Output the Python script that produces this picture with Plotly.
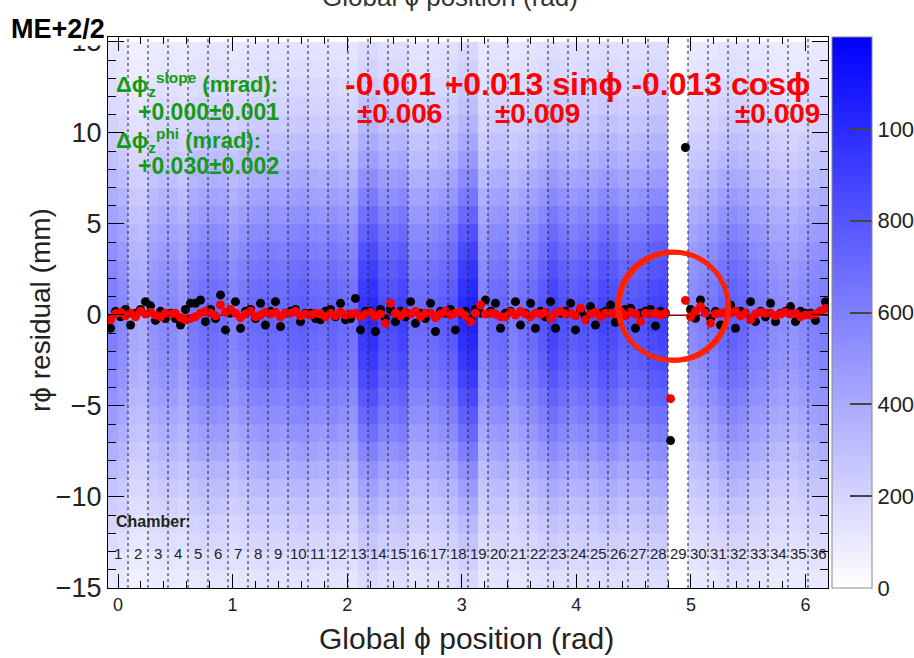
import math
import plotly.graph_objects as go

# ---------------- data ----------------
n_chambers = 36
chamber_ids = list(range(1, n_chambers + 1))
chamber_width_deg = 10.0
point_offsets = [-0.065, -0.022, 0.022, 0.065]  # rad, offsets of points within a chamber

# heat-map column intensities (two columns per chamber, left to right)
column_counts = [
    620, 560, 420, 400, 520, 560, 560, 500, 640, 680,
    700, 680, 600, 650, 700, 720, 720, 700, 740, 760,
    720, 700, 740, 700, 680, 950, 1000, 850, 850, 900,
    700, 700, 720, 760, 800, 1000, 1050, 600, 700, 720,
    620, 680, 720, 800, 900, 820, 780, 820, 800, 880,
    860, 780, 800, 820, 880, 900, 0, 0, 560, 600,
    640, 720, 760, 720, 640, 620, 560, 540, 520, 560,
    600, 620,
]
# relative vertical profile of the residual distribution (1 mm bins, -15 .. 15)
residual_profile = [
    0.18, 0.22, 0.27, 0.32, 0.38, 0.45, 0.52, 0.60, 0.68, 0.75,
    0.82, 0.88, 0.93, 0.97, 1.00, 1.00, 0.96, 0.91, 0.85, 0.78,
    0.70, 0.62, 0.54, 0.46, 0.40, 0.34, 0.29, 0.25, 0.21, 0.18,
]

# black points: 4 per chamber (None = no point)
black_res = [
    [-0.73, 0.20, -0.10, 0.30], [-0.55, 0.10, 0.30, 0.73], [0.50, -0.30, 0.20, -0.20],
    [0.10, -0.20, -0.55, 0.30], [0.64, 0.64, 0.82, -0.37], [0.30, -0.20, 1.10, -0.82],
    [0.10, 0.73, -0.73, 0.20], [0.30, -0.20, 0.64, -0.55], [0.20, 0.73, -0.64, 0.10],
    [0.20, 0.30, -0.37, 0.10], [0.10, -0.20, -0.27, 0.20], [0.30, -0.10, 0.64, -0.27],
    [-0.20, 0.91, -0.82, 0.20], [0.20, -0.91, 0.30, -0.20], [0.30, -0.37, 0.20, -0.10],
    [0.73, -0.46, 0.10, -0.20], [0.64, -0.91, 0.20, 0.10], [0.30, -0.82, 0.10, 0.20],
    [-0.20, 0.30, 0.10, 0.82], [0.20, 0.64, -0.73, 0.10], [0.20, 0.73, -0.55, 0.10],
    [0.64, -0.73, 0.20, -0.10], [0.73, -0.73, 0.10, 0.20], [0.64, -0.82, 0.20, -0.10],
    [0.46, -0.55, 0.10, 0.20], [0.55, -0.40, 0.20, 0.30], [0.37, -0.73, 0.10, 0.20],
    [0.30, -0.60, 0.20, 0.10], [-6.90, None, None, 9.20], [0.30, -0.18, 0.82, 0.20],
    [-0.18, 0.20, -0.55, 0.10], [0.55, -0.73, 0.20, 0.10], [0.73, -0.37, 0.20, -0.10],
    [0.64, -0.37, 0.10, 0.20], [0.46, -0.37, 0.20, 0.10], [0.10, -0.30, 0.20, 0.73],
]
# red points: 4 per chamber
red_res = [
    [-0.27, 0.05, 0.15, -0.05], [0.10, -0.10, 0.20, 0.05], [0.15, 0.00, -0.10, 0.10],
    [0.05, 0.10, -0.15, -0.27], [-0.20, -0.10, 0.10, 0.20], [0.10, -0.05, 0.55, 0.15],
    [0.30, 0.10, -0.15, 0.05], [0.20, -0.10, 0.00, 0.15], [0.05, 0.15, -0.10, 0.10],
    [0.10, 0.20, -0.05, 0.05], [0.00, 0.10, 0.05, -0.10], [0.10, -0.05, 0.15, 0.00],
    [0.05, 0.10, -0.10, 0.05], [0.15, -0.10, 0.05, -0.46], [0.64, 0.10, -0.05, 0.15],
    [0.05, 0.20, -0.10, 0.10], [0.10, -0.15, 0.05, 0.20], [0.00, 0.10, 0.15, -0.05],
    [-0.37, 0.10, 0.55, 0.05], [0.10, 0.05, -0.10, -0.10], [0.15, 0.00, 0.20, 0.05],
    [-0.10, 0.10, 0.05, 0.15], [-0.18, 0.10, 0.20, 0.05], [0.10, -0.05, 0.37, -0.27],
    [0.05, 0.15, -0.10, 0.10], [0.10, 0.05, 0.20, -0.05], [0.15, 0.05, -0.35, 0.10],
    [0.05, 0.10, 0.00, 0.10], [-4.60, None, None, 0.80], [-0.10, 0.20, 0.46, 0.10],
    [-0.45, 0.05, 0.10, 0.15], [0.10, 0.20, -0.05, 0.10], [-0.27, 0.05, 0.15, 0.10],
    [0.10, -0.05, 0.05, 0.15], [0.05, 0.10, -0.10, 0.00], [0.00, 0.05, 0.20, 0.35],
]
# fit: p0 + p1 sin(phi) + p2 cos(phi)
fit_p0, fit_p1, fit_p2 = -0.001, 0.013, -0.013
fit_text = "-0.001 +0.013 sin\u03d5 -0.013 cos\u03d5"
fit_err_text = ["\u00b10.006", "\u00b10.009", "\u00b10.009"]
dphi_slope_text = "+0.000\u00b10.001"
dphi_phi_text = "+0.030\u00b10.002"
station_label = "ME+2/2"

# ---------------- derived ----------------
cw = math.radians(chamber_width_deg)
x_lo = -cw / 2
x_hi = 2 * math.pi - cw / 2
centers = [(c - 1) * cw for c in chamber_ids]

n_cols = len(column_counts)
col_w = (x_hi - x_lo) / n_cols
hx = [x_lo + (j + 0.5) * col_w for j in range(n_cols)]
hy = [-15 + i + 0.5 for i in range(len(residual_profile))]
hz = [[a * p for a in column_counts] for p in residual_profile]


def flat(vals):
    xs, ys = [], []
    for c, row in zip(centers, vals):
        for o, v in zip(point_offsets, row):
            if v is not None:
                xs.append(c + o)
                ys.append(v)
    return xs, ys


bx, by = flat(black_res)
rx, ry = flat(red_res)
fx = [x_lo + k * (x_hi - x_lo) / 200 for k in range(201)]
fy = [fit_p0 + fit_p1 * math.sin(v) + fit_p2 * math.cos(v) for v in fx]

# ---------------- figure ----------------
W, H = 914, 658
L, R, T, B = 108, 828, 37, 588


def px(x):
    return (x - L) / (R - L)


def py(y):
    return (B - y) / (B - T)


FONT = "Liberation Sans, Arial, Helvetica, sans-serif"

fig = go.Figure()
fig.add_trace(go.Heatmap(
    x=hx, y=hy, z=hz, zmin=0, zmax=1200, zsmooth=False,
    colorscale=[[0, "rgb(255,255,255)"], [1, "rgb(0,0,255)"]],
    colorbar=dict(
        x=px(832), xanchor="left", y=0.5, yanchor="middle", len=1, lenmode="fraction",
        thickness=40, thicknessmode="pixels", xpad=0, ypad=0,
        outlinewidth=1, outlinecolor="#888",
        tickvals=[0, 200, 400, 600, 800, 1000], ticks="inside", ticklen=22,
        tickwidth=2, tickcolor="#444",
        tickfont=dict(family=FONT, size=22, color="#222"),
    ),
    hoverinfo="skip",
))
fig.add_trace(go.Scatter(x=fx, y=fy, mode="lines", line=dict(color="#8b0000", width=1.5),
                         hoverinfo="skip"))
fig.add_trace(go.Scatter(x=bx, y=by, mode="markers",
                         marker=dict(color="black", size=9), hoverinfo="skip"))
fig.add_trace(go.Scatter(x=rx, y=ry, mode="markers",
                         marker=dict(color="rgb(255,0,0)", size=9), hoverinfo="skip"))

# chamber boundaries
for k in range(1, n_chambers):
    xb = x_lo + k * cw
    fig.add_shape(type="line", x0=xb, x1=xb, y0=0, y1=1, xref="x", yref="paper",
                  line=dict(color="#222", width=1, dash="dot"), layer="above")

# hand-drawn circle
fig.add_shape(type="circle", xref="x", yref="y", x0=4.363, x1=5.323, y0=-2.48, y1=3.46,
              line=dict(color="rgb(255,30,0)", width=5), layer="above")
fig.add_shape(type="circle", xref="x", yref="y", x0=4.385, x1=5.34, y0=-2.58, y1=3.36,
              line=dict(color="rgb(255,40,0)", width=2), layer="above")

ann = []
ann.append(dict(text="<b>" + station_label + "</b>", x=px(9), y=py(29), xanchor="left",
                yanchor="middle", font=dict(family=FONT, size=27, color="black"),
                bgcolor="white", borderpad=1))
ann.append(dict(text="Global \u03d5 position (rad)", x=px(450), y=py(-3), xanchor="center",
                yanchor="middle", font=dict(family=FONT, size=26, color="#333")))
green = "rgb(20,155,20)"
ann.append(dict(text="<b>\u0394\u03d5<sub>z</sub><sup>slope</sup> (mrad):</b>", x=px(114),
                y=py(84), xanchor="left", yanchor="middle",
                font=dict(family=FONT, size=22, color=green)))
ann.append(dict(text="<b>" + dphi_slope_text + "</b>", x=px(136), y=py(112), xanchor="left",
                yanchor="middle", font=dict(family=FONT, size=23, color=green)))
ann.append(dict(text="<b>\u0394\u03d5<sub>z</sub><sup>phi</sup> (mrad):</b>", x=px(114),
                y=py(140), xanchor="left", yanchor="middle",
                font=dict(family=FONT, size=22, color=green)))
ann.append(dict(text="<b>" + dphi_phi_text + "</b>", x=px(136), y=py(166), xanchor="left",
                yanchor="middle", font=dict(family=FONT, size=23, color=green)))
ann.append(dict(text="<b>" + fit_text + "</b>", x=px(343), y=py(84), xanchor="left",
                yanchor="middle", font=dict(family=FONT, size=32, color="red")))
for txt, xl in zip(fit_err_text, [355, 493, 733]):
    ann.append(dict(text="<b>" + txt + "</b>", x=px(xl), y=py(113), xanchor="left",
                    yanchor="middle", font=dict(family=FONT, size=28, color="red")))
ann.append(dict(text="<b>Chamber:</b>", x=px(114), y=py(521), xanchor="left", yanchor="middle",
                font=dict(family=FONT, size=16, color="#222")))
for c, xc in zip(chamber_ids, centers):
    ann.append(dict(text=str(c), x=xc, xref="x", y=py(553), yref="paper", xanchor="center",
                    yanchor="middle", font=dict(family=FONT, size=15, color="#222")))
ann.append(dict(text="Global \u03d5 position (rad)", x=px(466), y=py(638), xanchor="center",
                yanchor="middle", font=dict(family=FONT, size=30, color="#222")))
ann.append(dict(text="r\u03d5 residual (mm)", x=px(40), y=py(310), xanchor="center",
                yanchor="middle", textangle=-90, font=dict(family=FONT, size=28, color="#222")))
for a in ann:
    a.setdefault("xref", "paper")
    a.setdefault("yref", "paper")
    a["showarrow"] = False
fig.update_layout(annotations=ann)

fig.update_xaxes(
    range=[x_lo, x_hi], tickvals=[0, 1, 2, 3, 4, 5, 6], ticks="inside", ticklen=14,
    tickwidth=1, tickcolor="black",
    minor=dict(dtick=0.2, tick0=0, ticks="inside", ticklen=7, tickcolor="black"),
    showline=True, linecolor="black", linewidth=1, mirror="allticks",
    showgrid=False, zeroline=False,
    tickfont=dict(family=FONT, size=18, color="#222"),
)
fig.update_yaxes(
    range=[-15, 15.27], tickvals=[-15, -10, -5, 0, 5, 10, 15], ticks="inside", ticklen=16,
    tickwidth=1, tickcolor="black",
    minor=dict(dtick=1, tick0=0, ticks="inside", ticklen=8, tickcolor="black"),
    showline=True, linecolor="black", linewidth=1, mirror="allticks",
    showgrid=False, zeroline=False,
    tickfont=dict(family=FONT, size=27, color="#222"),
)
fig.update_layout(
    width=W, height=H, showlegend=False,
    margin=dict(l=L, r=W - R, t=T, b=H - B, autoexpand=False),
    paper_bgcolor="white", plot_bgcolor="white",
)
fig.write_html("out.html")
